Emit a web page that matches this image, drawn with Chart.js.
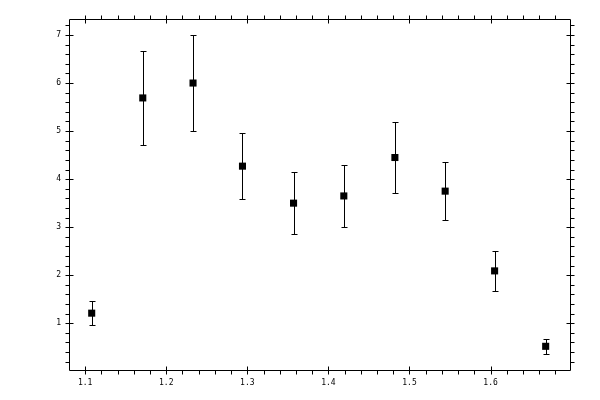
<!DOCTYPE html>
<html>
<head>
<meta charset="utf-8">
<script src="https://cdn.jsdelivr.net/npm/chart.js@4/dist/chart.umd.min.js"></script>
<style>
  html, body { margin: 0; padding: 0; background: #fff; }
  canvas { display: block; }
</style>
</head>
<body>
<canvas id="err-chart" width="600" height="400"></canvas>
<script>
// measured points with symmetric errors
const xVals = [1.108, 1.171, 1.233, 1.294, 1.357, 1.419, 1.482, 1.544, 1.605, 1.668];
const yVals = [1.21, 5.69, 6.00, 4.27, 3.50, 3.65, 4.45, 3.75, 2.09, 0.52];
const yErrs = [0.25, 0.98, 1.00, 0.69, 0.64, 0.65, 0.74, 0.60, 0.41, 0.15];

const xTicks = [1.1, 1.2, 1.3, 1.4, 1.5, 1.6];
const yTicks = [1, 2, 3, 4, 5, 6, 7];

function buildPoints() {
    let pts = [];
    for (let i = 0; i < xVals.length; i++) {
        pts.push({ x: xVals[i], y: yVals[i], e: yErrs[i] });
    }
    return pts;
}

function crisp(v) {
    return Math.round(v) + 0.5;
}

// vertical error bars, drawn under the markers
const errorBars = {
    id: 'errorBars',
    beforeDatasetsDraw(chart) {
        const ctx = chart.ctx;
        const xs = chart.scales.x, ys = chart.scales.y;
        const cap = 3;
        ctx.save();
        ctx.strokeStyle = '#000';
        ctx.lineWidth = 1;
        chart.data.datasets[0].data.forEach(p => {
            const px = crisp(xs.getPixelForValue(p.x));
            const top = crisp(ys.getPixelForValue(p.y + p.e));
            const bot = crisp(ys.getPixelForValue(p.y - p.e));
            ctx.beginPath();
            ctx.moveTo(px, top); ctx.lineTo(px, bot);
            ctx.moveTo(px - cap, top); ctx.lineTo(px + cap, top);
            ctx.moveTo(px - cap, bot); ctx.lineTo(px + cap, bot);
            ctx.stroke();
        });
        ctx.restore();
    }
};

// box frame with major ticks crossing and minor ticks outside, on all four sides
const frameTicks = {
    id: 'frameTicks',
    afterDraw(chart) {
        const ctx = chart.ctx;
        const a = chart.chartArea;
        const xs = chart.scales.x, ys = chart.scales.y;
        const L = crisp(a.left), R = crisp(a.right), T = crisp(a.top), B = crisp(a.bottom);
        const big = 4, small = 4;
        ctx.save();
        ctx.strokeStyle = '#000';
        ctx.lineWidth = 1;
        ctx.beginPath();
        ctx.rect(L, T, R - L, B - T);

        // x ticks
        for (let k = 0; ; k++) {
            const v = Math.round((1.08 + k * 0.02) * 1000) / 1000;
            if (v > xs.max) break;
            const px = crisp(xs.getPixelForValue(v));
            if (px <= L || px >= R) continue;
            const major = xTicks.some(t => Math.abs(t - v) < 1e-6);
            if (major) {
                ctx.moveTo(px, B - big); ctx.lineTo(px, B + big);
                ctx.moveTo(px, T - big); ctx.lineTo(px, T + big);
            } else {
                ctx.moveTo(px, B); ctx.lineTo(px, B + small);
                ctx.moveTo(px, T); ctx.lineTo(px, T - small);
            }
        }
        // y ticks
        for (let k = 0; ; k++) {
            const v = Math.round(k * 0.2 * 1000) / 1000;
            if (v > ys.max) break;
            if (v < ys.min) continue;
            const py = crisp(ys.getPixelForValue(v));
            if (py <= T || py >= B) continue;
            const major = yTicks.some(t => Math.abs(t - v) < 1e-6);
            if (major) {
                ctx.moveTo(L - big, py); ctx.lineTo(L + big, py);
                ctx.moveTo(R - big, py); ctx.lineTo(R + big, py);
            } else {
                ctx.moveTo(L, py); ctx.lineTo(L - small, py);
                ctx.moveTo(R, py); ctx.lineTo(R + small, py);
            }
        }
        ctx.stroke();
        ctx.restore();
    }
};

function makeChart() {
    const ctx = document.getElementById('err-chart').getContext('2d');
    const tickFont = { family: "'DejaVu Sans Mono', monospace", size: 8 };
    window.errChart = new Chart(ctx, {
        type: 'scatter',
        data: {
            datasets: [{
                data: buildPoints(),
                pointStyle: 'rect',
                radius: 5,
                hoverRadius: 5,
                backgroundColor: '#000',
                borderColor: '#000',
                borderWidth: 0
            }]
        },
        options: {
            responsive: false,
            animation: false,
            devicePixelRatio: 1,
            layout: { padding: { left: 0, top: 19, right: 30, bottom: 0 } },
            plugins: {
                legend: { display: false },
                tooltip: { enabled: false }
            },
            scales: {
                x: {
                    type: 'linear',
                    min: 1.08,
                    max: 1.698,
                    afterBuildTicks(scale) { scale.ticks = xTicks.map(v => ({ value: v })); },
                    afterFit(scale) { scale.height = 30; },
                    ticks: {
                        color: '#000',
                        font: tickFont,
                        padding: 8,
                        maxRotation: 0,
                        autoSkip: false,
                        callback(v) { return v.toFixed(1); }
                    },
                    border: { display: false },
                    grid: { display: false, drawTicks: false }
                },
                y: {
                    type: 'linear',
                    min: 0.027,
                    max: 7.333,
                    afterBuildTicks(scale) { scale.ticks = yTicks.map(v => ({ value: v })); },
                    afterFit(scale) { scale.width = 69; },
                    ticks: {
                        color: '#000',
                        font: tickFont,
                        padding: 8,
                        autoSkip: false,
                        callback(v) { return String(v); }
                    },
                    border: { display: false },
                    grid: { display: false, drawTicks: false }
                }
            }
        },
        plugins: [errorBars, frameTicks]
    });
}

makeChart();
</script>
</body>
</html>
